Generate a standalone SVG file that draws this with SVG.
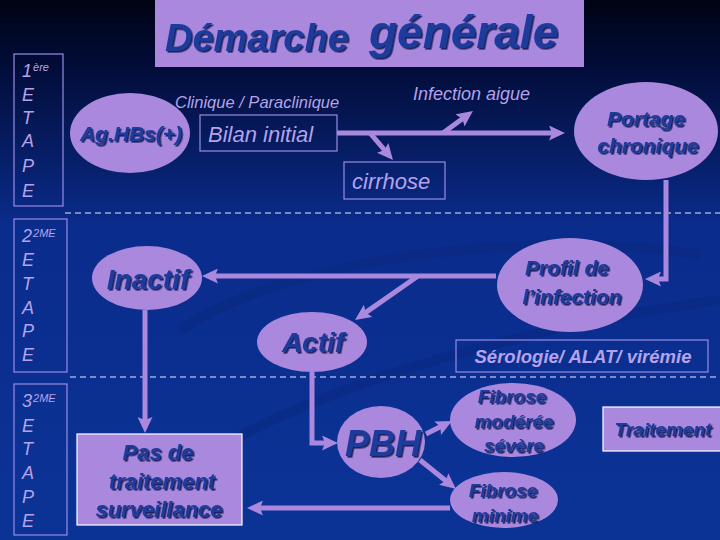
<svg xmlns="http://www.w3.org/2000/svg" width="720" height="540" viewBox="0 0 720 540">
<defs>
<linearGradient id="bg" x1="0" y1="0" x2="0" y2="1">
<stop offset="0" stop-color="#000414"/>
<stop offset="0.12" stop-color="#020c38"/>
<stop offset="0.42" stop-color="#0a2c8c"/>
<stop offset="1" stop-color="#0b3396"/>
</linearGradient>
<filter id="sh" x="-10%" y="-10%" width="130%" height="140%">
<feDropShadow dx="1.6" dy="1.6" stdDeviation="0.4" flood-color="#0a1450" flood-opacity="0.9"/>
</filter>
<marker id="ah" markerUnits="userSpaceOnUse" markerWidth="16" markerHeight="15" refX="8" refY="7.5" orient="auto">
<path d="M0,0 L16,7.5 L0,15 L3,7.5 z" fill="#aa88dd"/>
</marker>
<style>
.lt{font-family:"Liberation Sans",Arial,sans-serif;font-style:italic;fill:#b4a2ea}
.stage{font-size:18px}
.sup{font-size:11px}
.nt{font-family:"Liberation Sans",Arial,sans-serif;font-style:italic;font-weight:bold;fill:#1f3b9b;filter:url(#sh);text-anchor:middle}
.node{fill:#aa88dd}
.box{fill:none;stroke:#9a8ae6;stroke-width:1.2}
.fbox{fill:#aa88dd;stroke:#ffffff;stroke-width:1.2}
.sbox{fill:none;stroke:#9a8ae6;stroke-width:1.2}
.dash{stroke:#e8e8ff;stroke-width:1.2;stroke-dasharray:6 4;fill:none}
.con{stroke:#aa88dd;stroke-width:5;fill:none}
.arr{marker-end:url(#ah)}
</style>
</defs>
<rect x="0" y="0" width="720" height="540" fill="url(#bg)"/>
<g opacity="0.35" fill="none" stroke="#082577" stroke-width="10">
<path d="M180,330 C300,250 560,230 700,255"/>
<path d="M200,460 C320,380 560,320 720,300"/>
</g>

<g id="stages">
<rect class="sbox" x="14" y="54" width="49" height="152"/>
<text class="lt stage" x="22" y="77">1<tspan class="sup" dx="1" dy="-6">ère</tspan></text>
<text class="lt stage" x="22" y="101">E</text>
<text class="lt stage" x="22" y="124">T</text>
<text class="lt stage" x="22" y="147">A</text>
<text class="lt stage" x="22" y="172">P</text>
<text class="lt stage" x="22" y="197">E</text>

<rect class="sbox" x="14" y="219" width="53" height="153"/>
<text class="lt stage" x="22" y="242">2<tspan class="sup" dx="1" dy="-5">2ME</tspan></text>
<text class="lt stage" x="22" y="266">E</text>
<text class="lt stage" x="22" y="290">T</text>
<text class="lt stage" x="22" y="314">A</text>
<text class="lt stage" x="22" y="337">P</text>
<text class="lt stage" x="22" y="361">E</text>

<rect class="sbox" x="14" y="384" width="53" height="151"/>
<text class="lt stage" x="22" y="407">3<tspan class="sup" dx="1" dy="-5">2ME</tspan></text>
<text class="lt stage" x="22" y="432">E</text>
<text class="lt stage" x="22" y="455">T</text>
<text class="lt stage" x="22" y="479">A</text>
<text class="lt stage" x="22" y="503">P</text>
<text class="lt stage" x="22" y="527">E</text>
</g>

<g id="separators">
<line class="dash" x1="65" y1="213" x2="720" y2="213"/>
<line class="dash" x1="70" y1="377" x2="720" y2="377"/>
</g>

<g id="title">
<rect x="155" y="0" width="429" height="67" fill="#aa88dd"/>
<text class="nt" x="165" y="51" style="text-anchor:start;font-size:38px">Démarche</text>
<text class="nt" x="369" y="48" style="text-anchor:start;font-size:46px">générale</text>
</g>

<g id="connectors">
<line class="con arr" x1="337" y1="133" x2="557" y2="133"/>
<line class="con arr" x1="443" y1="133" x2="466.5" y2="115.7"/>
<line class="con arr" x1="370" y1="133" x2="387.8" y2="153.9"/>
<path class="con arr" d="M666,180 V279 H653"/>
<line class="con arr" x1="496" y1="276" x2="210" y2="276"/>
<line class="con arr" x1="418" y1="276" x2="361.6" y2="315.4"/>
<line class="con arr" x1="145" y1="310" x2="145" y2="425"/>
<path class="con arr" d="M312,372 V443 H330"/>
<line class="con arr" x1="426" y1="434" x2="444.8" y2="424.6"/>
<line class="con arr" x1="420" y1="460" x2="449.8" y2="484"/>
<line class="con arr" x1="450" y1="508" x2="255" y2="508"/>
</g>

<g id="agbhs">
<ellipse class="node" cx="130" cy="133" rx="60" ry="40"/>
<text class="nt" x="131" y="141" style="font-size:21px">Ag.HBs(+)</text>
</g>

<g id="clinique">
<text class="lt" x="175" y="108" style="font-size:16.5px">Clinique / Paraclinique</text>
</g>

<g id="bilan">
<rect class="box" x="200" y="115" width="137" height="36"/>
<text class="lt" x="208" y="142" style="font-size:22px">Bilan initial</text>
</g>

<g id="infection">
<text class="lt" x="413" y="100" style="font-size:18px">Infection aigue</text>
</g>

<g id="cirrhose">
<rect class="box" x="344" y="162" width="101" height="37"/>
<text class="lt" x="352" y="189" style="font-size:22px">cirrhose</text>
</g>

<g id="portage">
<ellipse class="node" cx="646" cy="131" rx="72" ry="49"/>
<text class="nt" x="646" y="126" style="font-size:21px">Portage</text>
<text class="nt" x="648" y="153" style="font-size:21px">chronique</text>
</g>

<g id="profil">
<ellipse class="node" cx="570" cy="285" rx="73" ry="47"/>
<text class="nt" x="567" y="275" style="font-size:21px">Profil de</text>
<text class="nt" x="572" y="304" style="font-size:21px">l’infection</text>
</g>

<g id="serologie">
<rect class="box" x="456" y="340" width="252" height="32"/>
<text class="lt" x="583" y="363" style="font-size:18.5px;font-weight:bold;text-anchor:middle">Sérologie/ ALAT/ virémie</text>
</g>

<g id="inactif">
<ellipse class="node" cx="147" cy="278" rx="55" ry="32"/>
<text class="nt" x="148" y="289" style="font-size:28px">Inactif</text>
</g>

<g id="actif">
<ellipse class="node" cx="312" cy="342" rx="55" ry="30"/>
<text class="nt" x="313" y="352" style="font-size:28px">Actif</text>
</g>

<g id="pasde">
<rect class="fbox" x="77" y="434" width="165" height="91"/>
<text class="nt" x="158" y="460" style="font-size:22px">Pas de</text>
<text class="nt" x="162" y="489" style="font-size:22px">traitement</text>
<text class="nt" x="159" y="517" style="font-size:22px">surveillance</text>
</g>

<g id="pbh">
<ellipse class="node" cx="381" cy="442" rx="44" ry="36"/>
<text class="nt" x="383" y="456" style="font-size:36px">PBH</text>
</g>

<g id="fibmod">
<ellipse class="node" cx="513" cy="420" rx="63" ry="37"/>
<text class="nt" x="512" y="403" style="font-size:19px">Fibrose</text>
<text class="nt" x="514" y="428" style="font-size:19px">modérée</text>
<text class="nt" x="514" y="452" style="font-size:19px">sévère</text>
</g>

<g id="fibmin">
<ellipse class="node" cx="504" cy="500" rx="54" ry="28"/>
<text class="nt" x="503" y="497" style="font-size:19px">Fibrose</text>
<text class="nt" x="505" y="522" style="font-size:19px">minime</text>
</g>

<g id="traitement">
<rect class="fbox" x="603" y="407" width="118" height="44"/>
<text class="nt" x="663" y="436" style="font-size:19px">Traitement</text>
</g>
</svg>
